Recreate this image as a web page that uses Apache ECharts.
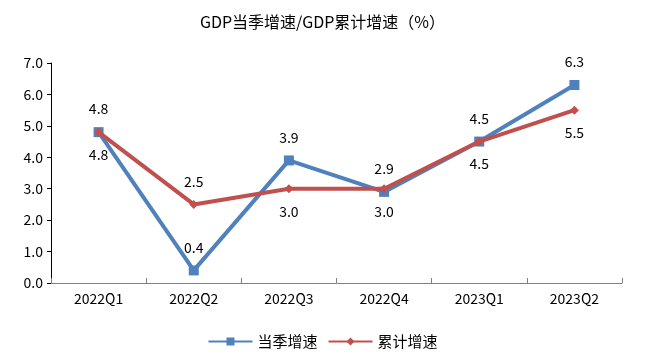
<!DOCTYPE html>
<html><head><meta charset="utf-8">
<script src="https://cdn.jsdelivr.net/npm/echarts@6/dist/echarts.min.js"></script>
<style>html,body{margin:0;padding:0;background:#fff}#c{width:645px;height:357px}</style>
</head><body><div id="c"></div>
<script>
const categories = ['2022Q1','2022Q2','2022Q3','2022Q4','2023Q1','2023Q2'];
const quarterly = [4.8, 0.4, 3.9, 2.9, 4.5, 6.3];
const cumulative = [4.8, 2.5, 3.0, 3.0, 4.5, 5.5];
const cumulativeLabelPos = ['bottom','top','bottom','bottom','bottom','bottom'];
const yTicks = {min: 0, max: 7, interval: 1};
const font = '"Noto Sans CJK SC", "Microsoft YaHei", sans-serif';
const chart = echarts.init(document.getElementById('c'));
chart.setOption({
  animation: false,
  textStyle: {fontFamily: font},
  title: {text: 'GDP当季增速/GDP累计增速（%）', left: 'center', top: 9,
    textStyle: {fontFamily: font, fontSize: 16, fontWeight: 'normal', color: '#000'}},
  legend: {bottom: 3, left: 'center', itemWidth: 44, itemHeight: 10, itemGap: 10,
    textStyle: {fontFamily: font, fontSize: 15, color: '#000'},
    data: ['当季增速','累计增速']},
  grid: {left: 51, right: 23, top: 63, bottom: 74},
  xAxis: {type: 'category', data: categories, boundaryGap: true,
    axisLine: {lineStyle: {color: '#808080', width: 1}},
    axisTick: {show: true, lineStyle: {color: '#808080'}, length: 5, inside: true},
    axisLabel: {color: '#000', fontSize: 14, fontFamily: font, margin: 9}},
  yAxis: {type: 'value', min: yTicks.min, max: yTicks.max, interval: yTicks.interval,
    splitLine: {show: false},
    axisLine: {show: true, lineStyle: {color: '#000', width: 1}},
    axisTick: {show: true, length: 4, lineStyle: {color: '#000'}},
    axisLabel: {color: '#000', fontSize: 14, fontFamily: font, margin: 8,
      formatter: v => v.toFixed(1)}},
  series: [
    {name: '当季增速', type: 'line', data: quarterly, symbol: 'rect', symbolSize: 10,
      itemStyle: {color: '#4F81BD'}, lineStyle: {color: '#4F81BD', width: 4},
      label: {show: true, position: 'top', distance: 11, color: '#000', fontSize: 14, fontFamily: font,
        formatter: p => p.value.toFixed(1)}, z: 2},
    {name: '累计增速', type: 'line', data: cumulative.map((v, i) => ({value: v,
        label: {position: cumulativeLabelPos[i]}})),
      symbol: 'diamond', symbolSize: 9,
      itemStyle: {color: '#C0504D'}, lineStyle: {color: '#C0504D', width: 4},
      label: {show: true, distance: 11, color: '#000', fontSize: 14, fontFamily: font,
        formatter: p => p.value.toFixed(1)}, z: 3}
  ]
});
</script></body></html>
